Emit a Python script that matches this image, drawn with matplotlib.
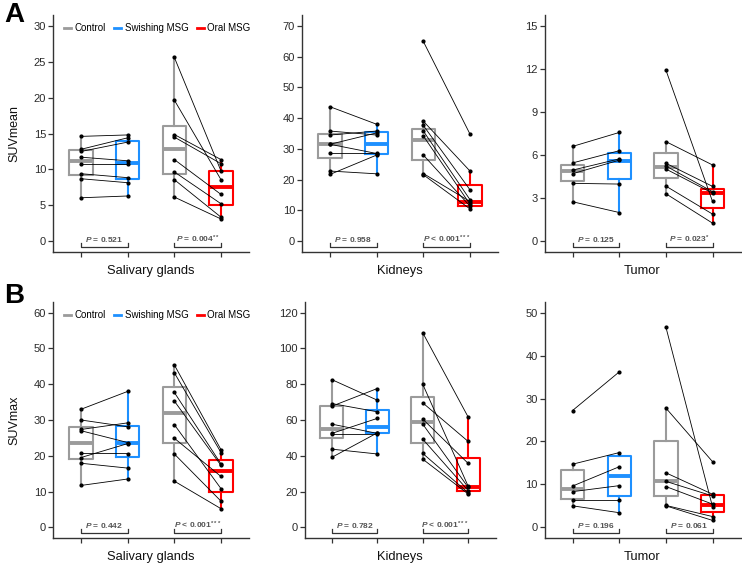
import matplotlib
matplotlib.use('Agg')
import matplotlib.pyplot as plt
from matplotlib.lines import Line2D
import numpy as np

plt.rcParams['font.family'] = ['Liberation Sans', 'DejaVu Sans']
plt.rcParams['mathtext.fontset'] = 'custom'
plt.rcParams['mathtext.rm'] = 'Liberation Sans:bold'
plt.rcParams['mathtext.it'] = 'Liberation Sans:italic:bold'
plt.rcParams['mathtext.bf'] = 'Liberation Sans:bold'

# ---------------- data ----------------
GROUPS = ['Control', 'Swishing MSG', 'Oral MSG']
ORGANS = ['Salivary glands', 'Kidneys', 'Tumor']
METRICS = ['SUVmean', 'SUVmax']
YMAX = [[30, 70, 15], [60, 120, 50]]
YSTEP = [[5, 10, 3], [10, 20, 10]]

# SUVmean - salivary glands (paired: control->swishing, control->oral)
sal_mean_ctrl_a = [14.6, 12.8, 12.5, 11.7, 10.8, 9.4, 8.7, 6.05]
sal_mean_swish = [14.8, 14.4, 13.8, 11.2, 10.8, 8.85, 8.15, 6.3]
sal_mean_ctrl_b = [25.6, 19.65, 14.86, 14.5, 11.37, 9.65, 8.57, 6.15]
sal_mean_oral = [9.78, 8.57, 11.37, 10.8, 6.52, 5.22, 3.35, 3.1]
# box stats: [whislo, q1, median, q3, whishi]
sal_mean_box = [[6.05, 9.2, 11.2, 12.7, 14.6], [6.3, 8.6, 10.9, 13.9, 14.8],
                [6.15, 9.3, 12.9, 16.0, 25.6], [3.1, 5.1, 7.55, 9.73, 11.37]]

kid_mean_ctrl_a = [43.7, 35.8, 34.5, 31.5, 31.5, 28.7, 22.8, 21.7]
kid_mean_swish = [38.0, 34.5, 35.8, 35.2, 28.5, 28.7, 21.9, 28.0]
kid_mean_ctrl_b = [64.9, 39.0, 37.6, 35.8, 34.2, 28.0, 22.0, 21.6]
kid_mean_oral = [34.8, 22.8, 16.7, 13.5, 12.0, 11.4, 12.9, 10.5]
kid_mean_box = [[21.7, 27.2, 31.5, 34.7, 43.7], [21.9, 28.3, 31.7, 35.4, 38.0],
                [21.6, 26.5, 33.0, 36.6, 39.0], [10.5, 11.4, 12.9, 18.4, 22.8]]

tum_mean_ctrl_a = [6.6, 5.45, 4.95, 4.7, 4.03, 2.75]
tum_mean_swish = [7.57, 6.3, 5.73, 5.64, 3.98, 2.0]
tum_mean_ctrl_b = [11.93, 6.94, 5.43, 5.24, 5.03, 3.84, 3.31]
tum_mean_oral = [2.77, 5.31, 3.82, 3.45, 3.35, 1.89, 1.26]
tum_mean_box = [[2.75, 4.17, 4.89, 5.33, 6.6], [2.0, 4.36, 5.59, 6.15, 7.57],
                [3.31, 4.43, 5.17, 6.15, 6.94], [1.26, 2.31, 3.35, 3.63, 5.31]]

# SUVmax
sal_max_ctrl_a = [33.0, 30.0, 27.35, 27.0, 20.65, 19.5, 17.9, 11.7]
sal_max_swish = [38.0, 28.1, 29.2, 23.7, 20.6, 23.4, 16.55, 13.5]
sal_max_ctrl_b = [45.4, 43.2, 37.7, 35.3, 28.7, 24.9, 20.5, 12.9]
sal_max_oral = [21.7, 20.9, 17.7, 17.3, 10.8, 14.2, 7.3, 5.2]
sal_max_box = [[11.7, 19.0, 23.7, 28.1, 33.0], [13.5, 19.7, 23.7, 28.4, 38.0],
               [12.9, 23.7, 32.0, 39.1, 45.4], [5.2, 9.9, 15.8, 18.7, 21.7]]

kid_max_ctrl_a = [82.6, 69.2, 67.7, 57.7, 52.5, 52.0, 43.7, 39.1]
kid_max_swish = [71.1, 64.6, 77.6, 52.5, 60.9, 52.0, 41.0, 52.8]
kid_max_ctrl_b = [108.8, 80.0, 69.6, 60.5, 57.7, 49.3, 41.3, 38.1]
kid_max_oral = [61.6, 22.9, 48.0, 35.7, 22.3, 20.5, 19.3, 18.6]
kid_max_box = [[39.1, 50.1, 54.7, 67.9, 82.6], [41.0, 52.5, 56.2, 65.5, 77.6],
               [38.1, 47.3, 59.0, 72.6, 108.8], [18.6, 20.1, 22.3, 38.9, 61.6]]

tum_max_ctrl_a = [27.2, 14.7, 9.6, 8.3, 6.35, 5.0]
tum_max_swish = [36.2, 17.4, 14.1, 9.7, 6.35, 3.4]
tum_max_ctrl_b = [46.7, 27.8, 12.7, 10.7, 9.5, 5.1, 5.0]
tum_max_oral = [4.8, 15.3, 7.7, 7.3, 5.4, 2.5, 1.6]
tum_max_box = [[5.0, 6.7, 8.9, 13.3, 14.7], [3.4, 7.3, 12.0, 16.7, 17.4],
               [5.0, 7.3, 10.7, 20.1, 27.8], [1.6, 3.5, 5.1, 7.5, 7.7]]

P_MEAN = ['0.521', '0.004', '0.958', '< 0.001', '0.125', '0.023']
P_MEAN_STARS = ['', '**', '', '***', '', '*']
P_MAX = ['0.442', '< 0.001', '0.782', '< 0.001', '0.196', '0.061']
P_MAX_STARS = ['', '***', '', '***', '', '']

# ---------------- style ----------------
C_GRAY = '#9b9b9b'
C_BLUE = '#1e90ff'
C_RED = '#ff0000'
BOX_COLORS = [C_GRAY, C_BLUE, C_GRAY, C_RED]
AX_COL = '#333333'

panels = [
    [(sal_mean_ctrl_a, sal_mean_swish, sal_mean_ctrl_b, sal_mean_oral, sal_mean_box),
     (kid_mean_ctrl_a, kid_mean_swish, kid_mean_ctrl_b, kid_mean_oral, kid_mean_box),
     (tum_mean_ctrl_a, tum_mean_swish, tum_mean_ctrl_b, tum_mean_oral, tum_mean_box)],
    [(sal_max_ctrl_a, sal_max_swish, sal_max_ctrl_b, sal_max_oral, sal_max_box),
     (kid_max_ctrl_a, kid_max_swish, kid_max_ctrl_b, kid_max_oral, kid_max_box),
     (tum_max_ctrl_a, tum_max_swish, tum_max_ctrl_b, tum_max_oral, tum_max_box)],
]
pvals = [(P_MEAN, P_MEAN_STARS), (P_MAX, P_MAX_STARS)]

W, H = 742, 566
fig = plt.figure(figsize=(W / 100, H / 100), dpi=100)

row_px = [(15, 252), (302, 538)]
col_px = [[(53, 196), (302, 196), (544.5, 196)],
          [(53, 196), (304.5, 191), (544.5, 196)]]

for r in range(2):
    top, bot = row_px[r]
    for c in range(3):
        left, width = col_px[r][c]
        ax = fig.add_axes([left / W, 1 - bot / H, width / W, (bot - top) / H])
        ca, sw, cb, orl, box = panels[r][c]
        ymax = YMAX[r][c]
        stats = [dict(whislo=b[0], q1=b[1], med=b[2], q3=b[3], whishi=b[4], fliers=[])
                 for b in box]
        art = ax.bxp(stats, positions=[1, 2, 3, 4], widths=0.5, showfliers=False,
                     showcaps=False, manage_ticks=False)
        for i, col in enumerate(BOX_COLORS):
            art['boxes'][i].set(color=col, linewidth=1.5)
            art['medians'][i].set(color=col, linewidth=2.8, solid_capstyle='butt')
            for wk in art['whiskers'][2 * i:2 * i + 2]:
                wk.set(color=col, linewidth=1.5)
        for a, b in zip(ca, sw):
            ax.plot([1, 2], [a, b], color='black', lw=0.6, marker='o', ms=2.0, zorder=5)
        for a, b in zip(cb, orl):
            ax.plot([3, 4], [a, b], color='black', lw=0.6, marker='o', ms=2.0, zorder=5)

        # p-value brackets
        pv, st = pvals[r]
        for k, (x0, x1) in enumerate([(1, 2), (3, 4)]):
            y0 = -0.028 * ymax
            y1 = -0.006 * ymax
            ax.plot([x0, x0, x1, x1], [y1, y0, y0, y1], color=AX_COL, lw=0.9,
                    clip_on=False, zorder=4)
            txt = r'$P$' + ('' if pv[2 * c + k].startswith('<') else ' =') + ' ' + pv[2 * c + k]
            if st[2 * c + k]:
                txt += r'$^{' + st[2 * c + k] + '}$'
            ax.text((x0 + x1) / 2, 0.008 * ymax, txt, ha='center', va='center',
                    fontsize=6, color='#555555', fontweight='bold')

        ax.set_xlim(0.4, 4.6)
        ax.set_ylim(-0.05 * ymax, 1.05 * ymax)
        ax.set_yticks(np.arange(0, ymax + 0.01, YSTEP[r][c]))
        ax.set_xticks([1, 2, 3, 4])
        ax.set_xticklabels([])
        for s in ['top', 'right']:
            ax.spines[s].set_visible(False)
        for s in ['left', 'bottom']:
            ax.spines[s].set_color(AX_COL)
            ax.spines[s].set_linewidth(1.0)
        ax.tick_params(axis='both', colors=AX_COL, length=3.5, width=0.9,
                       labelsize=8, labelcolor='#2a2a2a', pad=1.5)
        ax.set_xlabel(ORGANS[c], fontsize=9.3, color='#111111')
        ax.xaxis.set_label_coords(0.5, -0.056)
        if c == 0:
            ax.set_ylabel(METRICS[r], fontsize=9, color='#111111')
            ax.yaxis.set_label_coords(-0.168, 0.5)
            handles = [Line2D([0], [0], color=col, lw=2) for col in [C_GRAY, C_BLUE, C_RED]]
            ax.legend(handles, GROUPS, ncol=3, loc='center left',
                      bbox_to_anchor=(0.055, 0.945), frameon=False, fontsize=7,
                      handlelength=0.75, handletextpad=0.35, columnspacing=0.85,
                      borderaxespad=0, borderpad=0)

fig.text(4 / W, 1 - 2 / H, 'A', fontsize=20, fontweight='bold', va='top', ha='left')
fig.text(4 / W, 1 - 283 / H, 'B', fontsize=20, fontweight='bold', va='top', ha='left')

fig.savefig('out.png', dpi=100)
